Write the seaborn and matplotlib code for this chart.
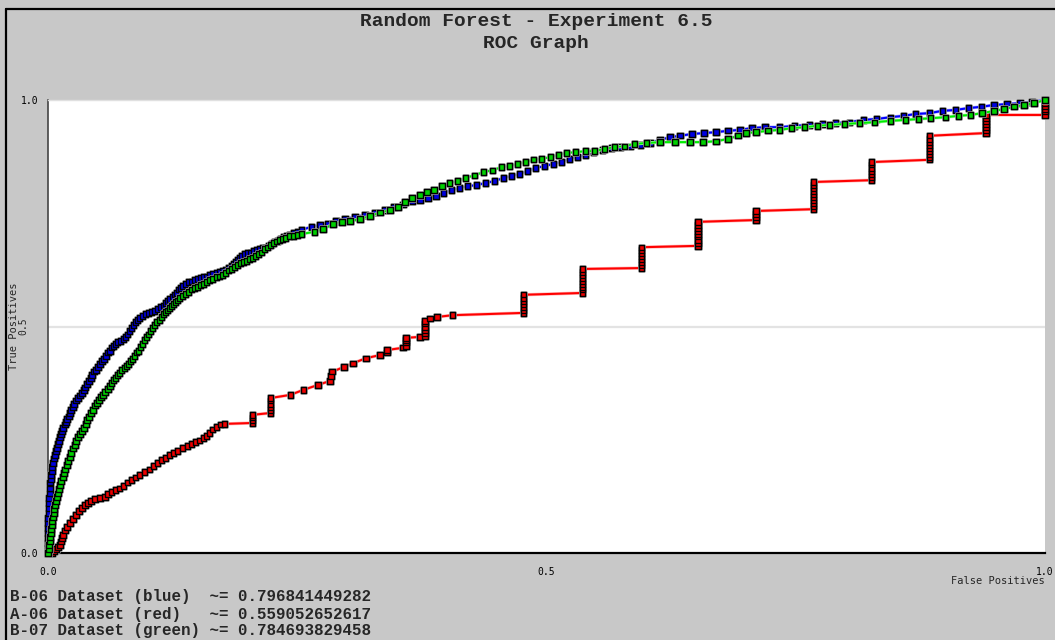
import matplotlib
matplotlib.use("Agg")
import matplotlib.pyplot as plt
import matplotlib.lines as mlines
import matplotlib.patheffects as pe
import seaborn as sns

# ---------------------------------------------------------------- data
series_names = ["B-06 Dataset (blue)", "A-06 Dataset (red)", "B-07 Dataset (green)"]
auc_values = ["0.796841449282", "0.559052652617", "0.784693829458"]

# (false positive rate, true positive rate) pairs for each classifier
blue_points = [
    (0.0, 0.0), (0.0, 0.011), (0.0, 0.022), (0.0, 0.033), (0.0, 0.044),
    (0.0, 0.055), (0.0, 0.066), (0.0, 0.077), (0.001, 0.088), (0.001, 0.099),
    (0.001, 0.110), (0.001, 0.121), (0.002, 0.132), (0.002, 0.143), (0.002, 0.155),
    (0.003, 0.163), (0.003, 0.172), (0.004, 0.181), (0.004, 0.190), (0.005, 0.199),
    (0.006, 0.208), (0.007, 0.216), (0.008, 0.225), (0.009, 0.232), (0.010, 0.241),
    (0.011, 0.247), (0.012, 0.256), (0.013, 0.263), (0.014, 0.269), (0.015, 0.276),
    (0.017, 0.283), (0.018, 0.289), (0.019, 0.296), (0.021, 0.302), (0.022, 0.309),
    (0.023, 0.316), (0.025, 0.322), (0.026, 0.329), (0.028, 0.336), (0.030, 0.342),
    (0.032, 0.347), (0.034, 0.353), (0.036, 0.360), (0.037, 0.366), (0.039, 0.373),
    (0.041, 0.380), (0.043, 0.386), (0.044, 0.393), (0.046, 0.400), (0.048, 0.404),
    (0.050, 0.411), (0.052, 0.417), (0.054, 0.424), (0.056, 0.428), (0.058, 0.435),
    (0.060, 0.442), (0.062, 0.446), (0.064, 0.453), (0.066, 0.457), (0.068, 0.461),
    (0.070, 0.466), (0.073, 0.468), (0.076, 0.472), (0.078, 0.477), (0.080, 0.483),
    (0.082, 0.490), (0.084, 0.497), (0.086, 0.503), (0.088, 0.510), (0.090, 0.514),
    (0.092, 0.519), (0.095, 0.523), (0.098, 0.528), (0.101, 0.530), (0.104, 0.532),
    (0.107, 0.534), (0.110, 0.539), (0.113, 0.543), (0.116, 0.547), (0.118, 0.552),
    (0.120, 0.556), (0.122, 0.561), (0.125, 0.565), (0.127, 0.570), (0.129, 0.574),
    (0.131, 0.581), (0.133, 0.585), (0.135, 0.589), (0.138, 0.594), (0.141, 0.598),
    (0.144, 0.600), (0.147, 0.603), (0.150, 0.605), (0.153, 0.607), (0.156, 0.609),
    (0.159, 0.611), (0.162, 0.614), (0.165, 0.616), (0.169, 0.618), (0.172, 0.620),
    (0.175, 0.623), (0.178, 0.625), (0.181, 0.629), (0.184, 0.634), (0.186, 0.638),
    (0.188, 0.642), (0.190, 0.647), (0.192, 0.651), (0.194, 0.656), (0.197, 0.660),
    (0.200, 0.662), (0.203, 0.664), (0.206, 0.667), (0.209, 0.669), (0.212, 0.671),
    (0.215, 0.673), (0.218, 0.675), (0.221, 0.678), (0.224, 0.682), (0.227, 0.687),
    (0.230, 0.689), (0.233, 0.693), (0.236, 0.698), (0.239, 0.700), (0.242, 0.702),
    (0.246, 0.706), (0.250, 0.709), (0.254, 0.713), (0.264, 0.720), (0.273, 0.724),
    (0.281, 0.728), (0.289, 0.733), (0.298, 0.737), (0.308, 0.742), (0.318, 0.746),
    (0.328, 0.751), (0.338, 0.757), (0.347, 0.764), (0.356, 0.770), (0.365, 0.777),
    (0.373, 0.779), (0.381, 0.784), (0.389, 0.788), (0.397, 0.795), (0.405, 0.801),
    (0.413, 0.806), (0.421, 0.810), (0.430, 0.812), (0.439, 0.817), (0.448, 0.821),
    (0.457, 0.828), (0.465, 0.832), (0.473, 0.837), (0.481, 0.843), (0.489, 0.850),
    (0.498, 0.854), (0.507, 0.859), (0.515, 0.863), (0.523, 0.870), (0.531, 0.874),
    (0.539, 0.879), (0.547, 0.885), (0.556, 0.890), (0.565, 0.894), (0.574, 0.896),
    (0.584, 0.898), (0.594, 0.901), (0.604, 0.905), (0.614, 0.912), (0.624, 0.918),
    (0.634, 0.921), (0.646, 0.925), (0.658, 0.927), (0.670, 0.929), (0.682, 0.932),
    (0.694, 0.934), (0.706, 0.938), (0.719, 0.940), (0.734, 0.940), (0.749, 0.943),
    (0.764, 0.945), (0.777, 0.947), (0.790, 0.949), (0.804, 0.951), (0.818, 0.956),
    (0.831, 0.958), (0.845, 0.962), (0.858, 0.965), (0.870, 0.969), (0.884, 0.971),
    (0.897, 0.976), (0.910, 0.978), (0.923, 0.982), (0.936, 0.985), (0.949, 0.989),
    (0.962, 0.991), (0.975, 0.993), (0.987, 0.996), (1.0, 1.0),
]

green_points = [
    (0.0, 0.0), (0.001, 0.009), (0.001, 0.018), (0.002, 0.026), (0.002, 0.035),
    (0.003, 0.044), (0.003, 0.053), (0.004, 0.062), (0.004, 0.071), (0.005, 0.079),
    (0.006, 0.088), (0.006, 0.097), (0.007, 0.106), (0.008, 0.115), (0.009, 0.124),
    (0.010, 0.132), (0.011, 0.141), (0.012, 0.150), (0.013, 0.159), (0.015, 0.168),
    (0.016, 0.177), (0.017, 0.185), (0.019, 0.194), (0.020, 0.203), (0.022, 0.212),
    (0.023, 0.221), (0.025, 0.230), (0.027, 0.238), (0.028, 0.247), (0.030, 0.256),
    (0.032, 0.263), (0.034, 0.269), (0.036, 0.276), (0.038, 0.285), (0.039, 0.294),
    (0.041, 0.300), (0.043, 0.309), (0.045, 0.316), (0.047, 0.325), (0.049, 0.331),
    (0.051, 0.338), (0.053, 0.344), (0.055, 0.349), (0.057, 0.355), (0.060, 0.362),
    (0.062, 0.369), (0.064, 0.375), (0.066, 0.382), (0.068, 0.386), (0.070, 0.393),
    (0.072, 0.397), (0.074, 0.404), (0.077, 0.408), (0.079, 0.413), (0.081, 0.417),
    (0.083, 0.424), (0.085, 0.428), (0.087, 0.435), (0.089, 0.442), (0.091, 0.446),
    (0.093, 0.455), (0.095, 0.461), (0.097, 0.470), (0.099, 0.477), (0.101, 0.483),
    (0.103, 0.490), (0.105, 0.497), (0.107, 0.503), (0.109, 0.510), (0.112, 0.514),
    (0.114, 0.521), (0.116, 0.528), (0.118, 0.532), (0.120, 0.536), (0.122, 0.541),
    (0.124, 0.545), (0.126, 0.550), (0.128, 0.554), (0.130, 0.558), (0.132, 0.563),
    (0.135, 0.567), (0.138, 0.572), (0.141, 0.576), (0.144, 0.581), (0.147, 0.585),
    (0.150, 0.587), (0.153, 0.592), (0.156, 0.594), (0.159, 0.598), (0.162, 0.603),
    (0.165, 0.605), (0.169, 0.609), (0.172, 0.611), (0.175, 0.614), (0.178, 0.618),
    (0.181, 0.623), (0.184, 0.627), (0.187, 0.631), (0.190, 0.636), (0.193, 0.640),
    (0.196, 0.642), (0.199, 0.645), (0.202, 0.649), (0.205, 0.651), (0.208, 0.656),
    (0.211, 0.660), (0.214, 0.664), (0.217, 0.671), (0.220, 0.675), (0.223, 0.680),
    (0.226, 0.684), (0.229, 0.687), (0.232, 0.691), (0.235, 0.693), (0.238, 0.695),
    (0.242, 0.700), (0.246, 0.700), (0.250, 0.702), (0.254, 0.704), (0.267, 0.709),
    (0.276, 0.715), (0.286, 0.726), (0.295, 0.731), (0.303, 0.733), (0.313, 0.737),
    (0.323, 0.744), (0.333, 0.751), (0.343, 0.757), (0.351, 0.764), (0.358, 0.775),
    (0.365, 0.784), (0.373, 0.790), (0.380, 0.797), (0.387, 0.801), (0.395, 0.810),
    (0.403, 0.817), (0.411, 0.821), (0.419, 0.828), (0.428, 0.834), (0.437, 0.841),
    (0.446, 0.845), (0.455, 0.852), (0.463, 0.854), (0.471, 0.859), (0.479, 0.863),
    (0.487, 0.868), (0.495, 0.870), (0.504, 0.874), (0.512, 0.879), (0.520, 0.883),
    (0.529, 0.885), (0.539, 0.887), (0.548, 0.887), (0.558, 0.892), (0.568, 0.896),
    (0.578, 0.898), (0.588, 0.903), (0.600, 0.905), (0.614, 0.907), (0.629, 0.907),
    (0.644, 0.907), (0.657, 0.907), (0.670, 0.909), (0.682, 0.914), (0.692, 0.921),
    (0.700, 0.927), (0.710, 0.929), (0.722, 0.932), (0.734, 0.934), (0.746, 0.938),
    (0.759, 0.940), (0.772, 0.943), (0.784, 0.945), (0.799, 0.947), (0.814, 0.949),
    (0.829, 0.951), (0.845, 0.954), (0.860, 0.956), (0.873, 0.958), (0.885, 0.960),
    (0.900, 0.962), (0.913, 0.965), (0.925, 0.967), (0.937, 0.971), (0.949, 0.976),
    (0.959, 0.980), (0.969, 0.985), (0.979, 0.989), (0.989, 0.993), (1.0, 1.0),
]

red_fpr = [0.0, 0.004, 0.006, 0.008, 0.010, 0.012, 0.013, 0.014, 0.015, 0.017,
           0.019, 0.022, 0.025, 0.028, 0.031, 0.034, 0.037, 0.040, 0.043, 0.047,
           0.052, 0.057, 0.060, 0.064, 0.068, 0.072, 0.076, 0.080, 0.084, 0.088,
           0.092, 0.097, 0.102, 0.106, 0.110, 0.114, 0.118, 0.122, 0.126, 0.130,
           0.135, 0.140, 0.144, 0.148, 0.152, 0.156, 0.159, 0.162, 0.165, 0.169,
           0.173, 0.177,
           0.205, 0.205, 0.205, 0.205,
           0.223, 0.223, 0.223, 0.223, 0.223, 0.223,
           0.243, 0.256, 0.271, 0.283, 0.284, 0.285, 0.297, 0.306, 0.319, 0.333,
           0.340, 0.340, 0.356,
           0.359, 0.359, 0.359, 0.359, 0.373,
           0.378, 0.378, 0.378, 0.378, 0.378, 0.378,
           0.383, 0.390, 0.406,
           0.477, 0.477, 0.477, 0.477, 0.477, 0.477, 0.477,
           0.536, 0.536, 0.536, 0.536, 0.536, 0.536, 0.536, 0.536, 0.536,
           0.595, 0.595, 0.595, 0.595, 0.595, 0.595, 0.595, 0.595,
           0.652, 0.652, 0.652, 0.652, 0.652, 0.652, 0.652, 0.652, 0.652,
           0.710, 0.710, 0.710, 0.710,
           0.768, 0.768, 0.768, 0.768, 0.768, 0.768, 0.768, 0.768, 0.768, 0.768,
           0.826, 0.826, 0.826, 0.826, 0.826, 0.826, 0.826,
           0.884, 0.884, 0.884, 0.884, 0.884, 0.884, 0.884, 0.884, 0.884,
           0.941, 0.941, 0.941, 0.941, 0.941, 0.941, 0.941,
           1.0, 1.0, 1.0, 1.0, 1.0, 1.0]
red_tpr = [0.0, 0.0, 0.004, 0.009, 0.013, 0.018, 0.026, 0.033, 0.040, 0.049,
           0.057, 0.066, 0.075, 0.084, 0.093, 0.099, 0.106, 0.110, 0.115, 0.119,
           0.121, 0.124, 0.130, 0.135, 0.139, 0.143, 0.148, 0.155, 0.161, 0.166,
           0.172, 0.179, 0.185, 0.192, 0.199, 0.205, 0.210, 0.216, 0.221, 0.225,
           0.232, 0.236, 0.241, 0.245, 0.249, 0.254, 0.258, 0.265, 0.272, 0.278,
           0.283, 0.285,
           0.287, 0.293, 0.299, 0.305,
           0.309, 0.316, 0.322, 0.329, 0.336, 0.342,
           0.349, 0.360, 0.371, 0.380, 0.391, 0.400, 0.411, 0.419, 0.430, 0.437,
           0.442, 0.448, 0.453,
           0.457, 0.464, 0.470, 0.475, 0.477,
           0.479, 0.486, 0.492, 0.499, 0.506, 0.512,
           0.517, 0.521, 0.525,
           0.530, 0.536, 0.543, 0.550, 0.556, 0.563, 0.570,
           0.574, 0.581, 0.587, 0.594, 0.600, 0.607, 0.614, 0.620, 0.627,
           0.629, 0.636, 0.642, 0.649, 0.656, 0.662, 0.669, 0.675,
           0.678, 0.684, 0.691, 0.698, 0.704, 0.711, 0.717, 0.724, 0.731,
           0.735, 0.742, 0.748, 0.755,
           0.759, 0.766, 0.773, 0.779, 0.786, 0.792, 0.799, 0.806, 0.812, 0.819,
           0.823, 0.830, 0.837, 0.843, 0.850, 0.857, 0.863,
           0.868, 0.874, 0.881, 0.887, 0.894, 0.901, 0.907, 0.914, 0.921,
           0.927, 0.934, 0.940, 0.947, 0.954, 0.960, 0.967,
           0.967, 0.974, 0.980, 0.987, 0.993, 1.0]

x_ticks = [0.0, 0.1, 0.2, 0.3, 0.4, 0.5, 0.6, 0.7, 0.8, 0.9, 1.0]
x_tick_labels = ["0.0", "", "", "", "", "0.5", "", "", "", "", "1.0"]
y_ticks = [0.0, 0.1, 0.2, 0.3, 0.4, 0.5, 0.6, 0.7, 0.8, 0.9, 1.0]
y_tick_labels = ["0.0", "", "", "", "", "", "", "", "", "", "1.0"]

blue_fpr = [p[0] for p in blue_points]
blue_tpr = [p[1] for p in blue_points]
green_fpr = [p[0] for p in green_points]
green_tpr = [p[1] for p in green_points]

# ---------------------------------------------------------------- style
sns.set_style("white")
plt.rcParams["font.family"] = ["DejaVu Sans Mono", "DejaVu Sans"]

W, H = 1055, 640
fig = plt.figure(figsize=(W / 100, H / 100), dpi=100, facecolor="#c8c8c8")
ax = fig.add_axes([48 / W, 87 / H, 997 / W, 453 / H])
ax.set_facecolor("white")

# thin black frame along the top and left of the canvas
fig.add_artist(mlines.Line2D([6 / W, 1.0], [1 - 9 / H, 1 - 9 / H],
                             color="black", lw=1.6, transform=fig.transFigure))
fig.add_artist(mlines.Line2D([6 / W, 6 / W], [0.0, 1 - 9 / H],
                             color="black", lw=1.6, transform=fig.transFigure))

ax.axhline(0.5, color="#e3e3e3", lw=1.6, zorder=0.5)

# (fpr, tpr, line colour, soft line edge, marker face)
curves = [
    (blue_fpr, blue_tpr, "#0000ff", "#b4b4ff", "#0000e0"),
    (red_fpr, red_tpr, "#ff0000", "#ffbcbc", "#ee0000"),
    (green_fpr, green_tpr, "#00ee00", "#bdf5bd", "#00d000"),
]
for i, (fpr, tpr, line_col, soft_col, face_col) in enumerate(curves):
    sns.lineplot(x=fpr, y=tpr, ax=ax, sort=False, estimator=None,
                 color=line_col, linewidth=1.5, clip_on=False, zorder=3 + 2 * i,
                 path_effects=[pe.Stroke(linewidth=2.4, foreground=soft_col),
                               pe.Normal()])
    sns.scatterplot(x=fpr, y=tpr, ax=ax, marker="s", s=15, color=face_col,
                    edgecolor="black", linewidth=1.0, clip_on=False,
                    zorder=4 + 2 * i, legend=False,
                    path_effects=[pe.Stroke(linewidth=1.9, foreground="#a4a4a4"),
                                  pe.Normal()])

ax.set_xlim(0, 1)
ax.set_ylim(0, 1)
ax.set_xticks(x_ticks)
ax.set_xticklabels(x_tick_labels)
ax.set_yticks(y_ticks)
ax.set_yticklabels(y_tick_labels)
ax.tick_params(axis="both", direction="in", length=3, width=1,
               labelsize=7, colors="#333333", labelcolor="black")
ax.tick_params(axis="x", pad=10, colors="black")
ax.tick_params(axis="y", pad=7)

ax.spines["right"].set_visible(False)
ax.spines["top"].set_color("#e0e0e0")
ax.spines["top"].set_linewidth(1.0)
ax.spines["left"].set_color("#444444")
ax.spines["left"].set_linewidth(1.2)
ax.spines["bottom"].set_color("black")
ax.spines["bottom"].set_linewidth(1.6)

# middle y tick label, written sideways like the axis title
ax.text(-25 / 997, 0.5, "0.5", rotation=90, ha="center", va="center",
        fontsize=7, transform=ax.transAxes)
ax.set_ylabel("True Positives", fontsize=7.5, rotation=90)
ax.yaxis.set_label_coords(-29 / 997, 0.5)
ax.text(1.0, -28 / 453, "False Positives", ha="right", va="center",
        fontsize=7.5, transform=ax.transAxes)

# titles
title_font = dict(family="Liberation Mono", weight="bold", fontsize=14)
fig.text(536 / W, 1 - 21 / H, "Random Forest - Experiment 6.5",
         ha="center", va="center", **title_font)
fig.text(536 / W, 1 - 43 / H, "ROC Graph", ha="center", va="center", **title_font)

# area-under-curve summary lines
pads = [2, 3, 1]
for i, (name, auc, pad) in enumerate(zip(series_names, auc_values, pads)):
    fig.text(10 / W, 1 - (597 + 17 * i) / H, f"{name}{' ' * pad}~= {auc}",
             ha="left", va="center", family="Liberation Mono",
             weight="bold", fontsize=11.4)

fig.savefig("out.png", dpi=100, facecolor=fig.get_facecolor())
